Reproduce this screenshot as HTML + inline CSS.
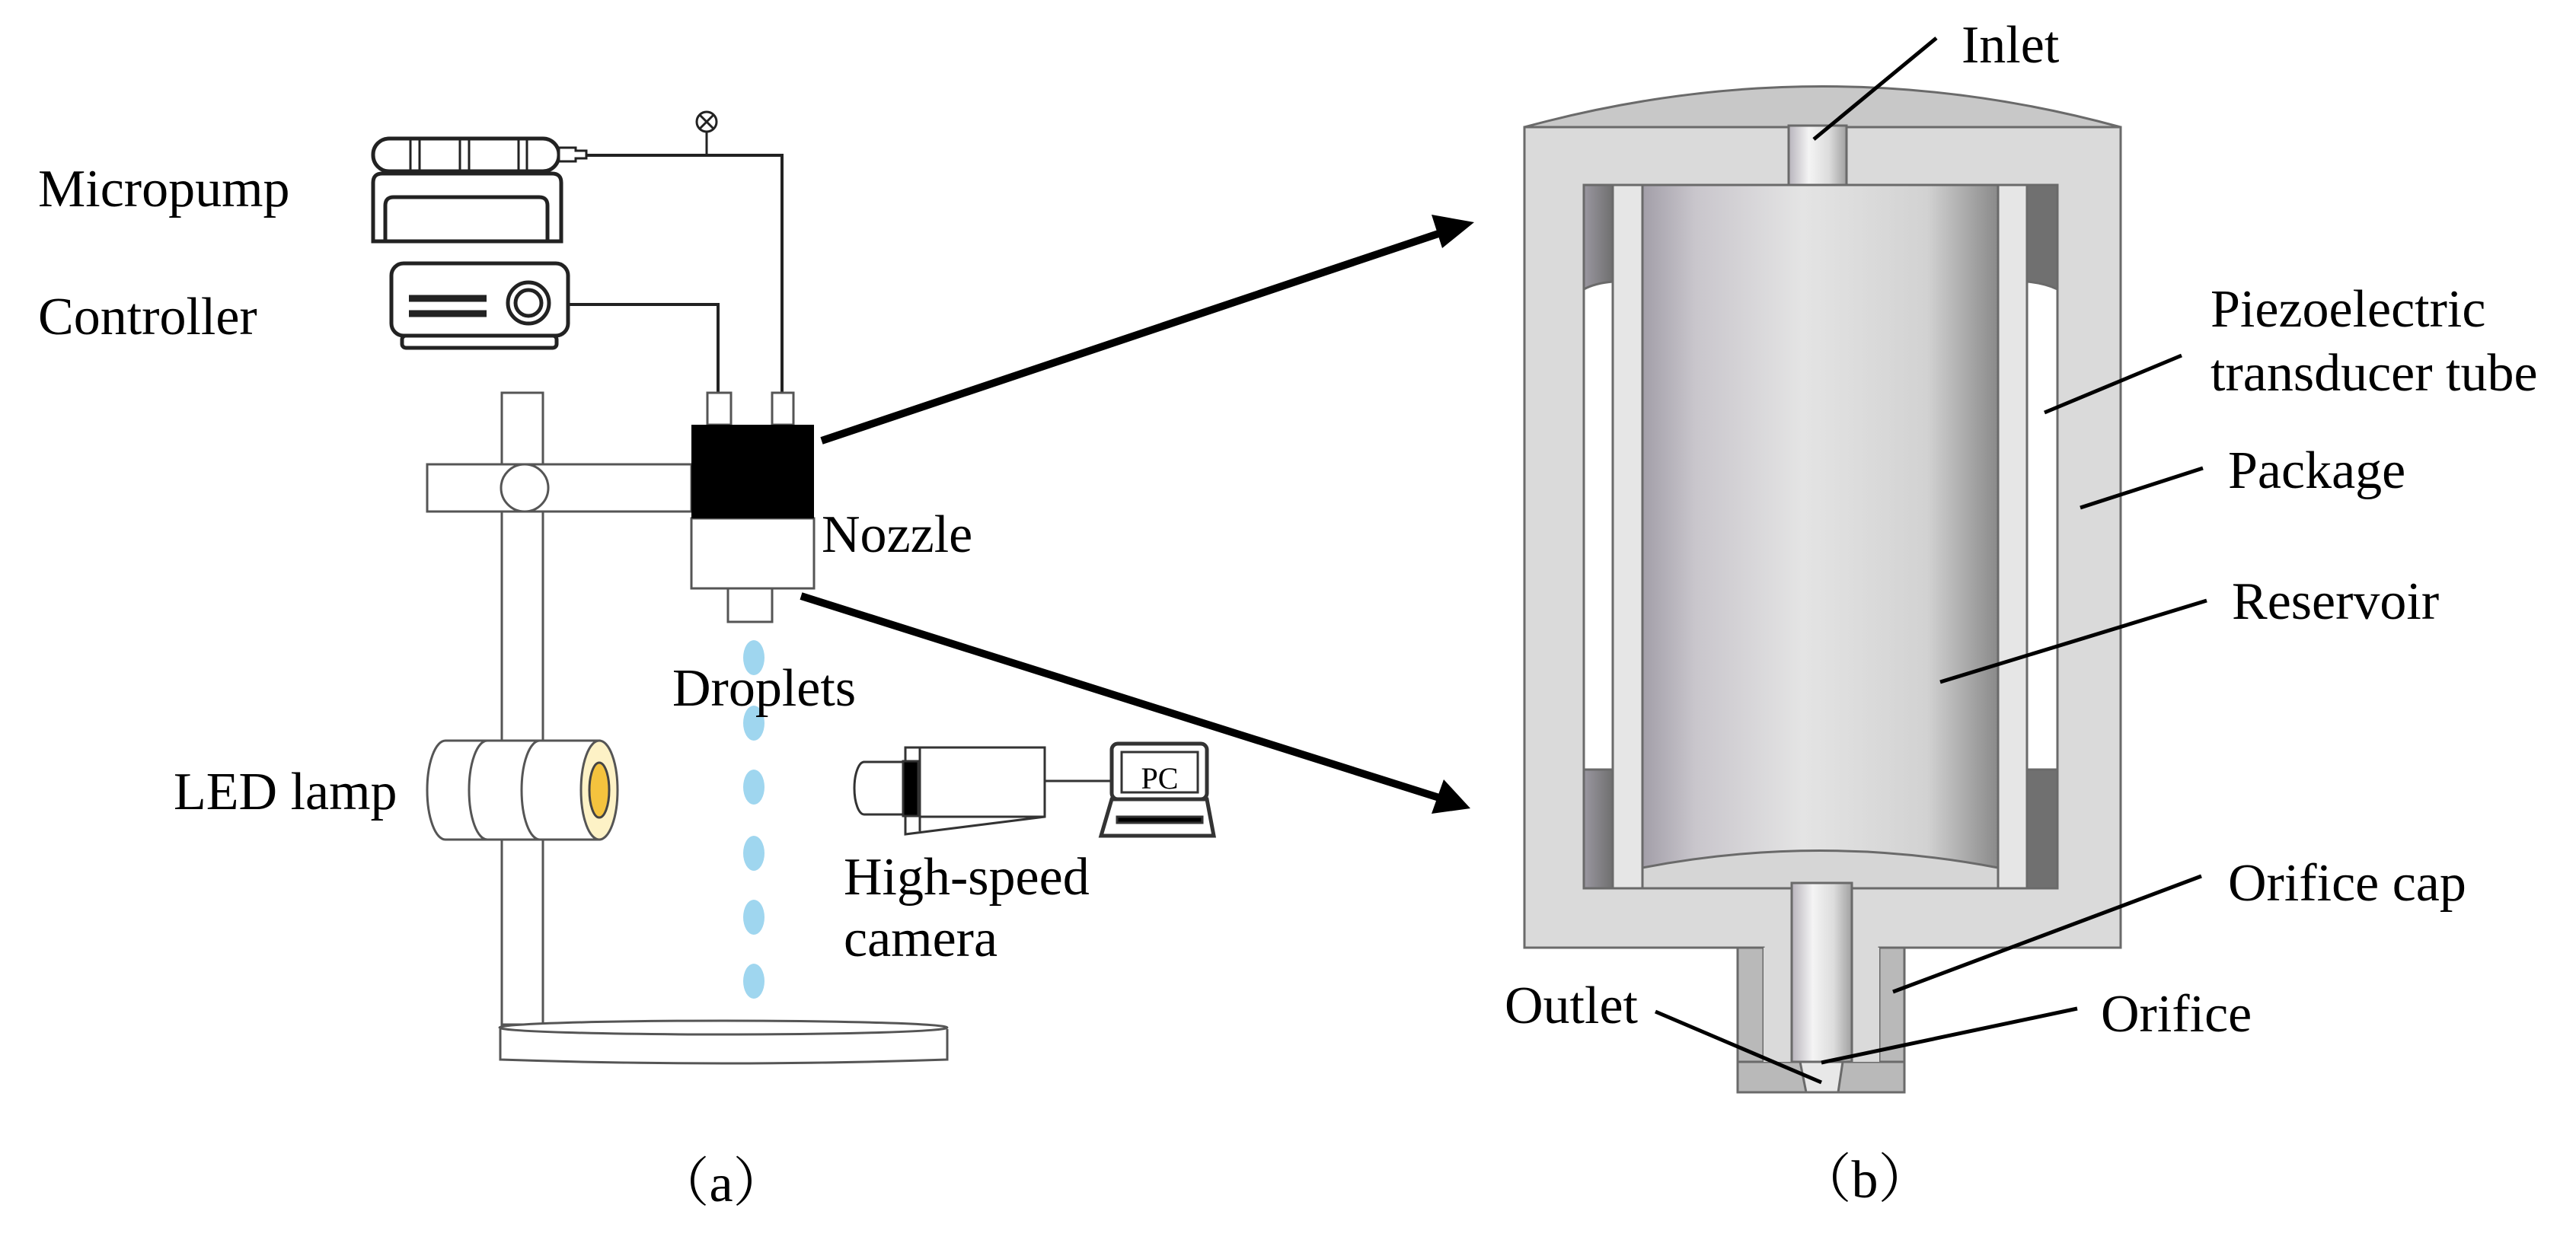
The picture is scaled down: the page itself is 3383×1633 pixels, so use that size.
<!DOCTYPE html>
<html><head><meta charset="utf-8"><style>html,body{margin:0;padding:0;background:#fff}svg{display:block}</style></head><body>
<svg width="3383" height="1633" viewBox="0 0 3383 1633" xmlns="http://www.w3.org/2000/svg" font-family="Liberation Serif, serif" font-size="70">
<defs>
<linearGradient id="res" x1="0" x2="1" y1="0" y2="0">
<stop offset="0" stop-color="#a29ea8"/><stop offset="0.15" stop-color="#c9c6cc"/><stop offset="0.45" stop-color="#e4e4e4"/><stop offset="0.8" stop-color="#d2d2d2"/><stop offset="1" stop-color="#8a8a8a"/>
</linearGradient>
<linearGradient id="tube" x1="0" x2="1" y1="0" y2="0">
<stop offset="0" stop-color="#b8b4bc"/><stop offset="0.35" stop-color="#f4f4f4"/><stop offset="0.7" stop-color="#dcdcdc"/><stop offset="1" stop-color="#a0a0a0"/>
</linearGradient>
<linearGradient id="darkL" x1="0" x2="1"><stop offset="0" stop-color="#9a97a0"/><stop offset="1" stop-color="#6f6f6f"/></linearGradient>
</defs>

<text x="50" y="271">Micropump</text>
<text x="50" y="439">Controller</text>
<text x="228" y="1063">LED lamp</text>
<text x="1079" y="725">Nozzle</text>
<text x="1108" y="1175">High-speed</text>
<text x="1108" y="1256">camera</text>
<text x="947" y="1578" text-anchor="middle" font-family="Liberation Serif, Noto Serif CJK SC, serif" font-size="70">（a）</text>

<g fill="none" stroke="#222" stroke-width="5">
<rect x="490" y="182" width="244" height="43" rx="21" fill="#fff"/>
<line x1="539" y1="182" x2="539" y2="225" stroke-width="3"/><line x1="551" y1="182" x2="551" y2="225" stroke-width="3"/>
<line x1="604" y1="182" x2="604" y2="225" stroke-width="3"/><line x1="616" y1="182" x2="616" y2="225" stroke-width="3"/>
<line x1="681" y1="182" x2="681" y2="225" stroke-width="3"/><line x1="692" y1="182" x2="692" y2="225" stroke-width="3"/>
<path d="M734 194 h22 v4 h14 v10 h-14 v4 h-22 z" fill="#fff" stroke-width="3"/>
<path d="M490 317 V240 q0 -12 12 -12 h223 q12 0 12 12 V317 Z" fill="#fff"/>
<path d="M506 317 V270 q0 -11 11 -11 h191 q11 0 11 11 V317" />
<rect x="514" y="346" width="232" height="95" rx="16" fill="#fff"/>
<rect x="528" y="441" width="203" height="16" rx="5" fill="#fff"/>
<line x1="537" y1="392" x2="639" y2="392" stroke-width="9"/>
<line x1="537" y1="412" x2="639" y2="412" stroke-width="9"/>
<circle cx="694" cy="398" r="27" fill="#fff"/><circle cx="694" cy="398" r="17"/>
<polyline points="770,204 1027,204 1027,516" stroke-width="4"/>
<line x1="928" y1="173" x2="928" y2="204" stroke-width="3"/>
<circle cx="928" cy="160" r="13" stroke-width="3" fill="#fff"/>
<line x1="919" y1="151" x2="937" y2="169" stroke-width="3"/><line x1="937" y1="151" x2="919" y2="169" stroke-width="3"/>
<polyline points="746,400 943,400 943,516" stroke-width="4"/>
</g>

<g fill="#fff" stroke="#555" stroke-width="3">
<rect x="659" y="516" width="54" height="830"/>
<rect x="561" y="610" width="347" height="62"/>
<circle cx="689" cy="641" r="31"/>
<path d="M657 1352 V1392 Q950 1402 1244 1392 V1352"/>
<ellipse cx="950" cy="1350" rx="294" ry="9"/>
<rect x="929" y="516" width="31" height="42"/>
<rect x="1014" y="516" width="28" height="42"/>
<rect x="908" y="681" width="161" height="92"/>
<rect x="956" y="773" width="58" height="44"/>
</g>
<rect x="908" y="558" width="161" height="123" fill="#000"/>

<g fill="#9fd6ef">
<ellipse cx="990" cy="864" rx="14" ry="23"/><ellipse cx="990" cy="950" rx="14" ry="23"/>
<ellipse cx="990" cy="1034" rx="14" ry="23"/><ellipse cx="990" cy="1121" rx="14" ry="23"/>
<ellipse cx="990" cy="1205" rx="14" ry="23"/><ellipse cx="990" cy="1289" rx="14" ry="23"/>
</g>
<text x="883" y="927">Droplets</text>

<g stroke="#555" stroke-width="3">
<path d="M585 973 H787 V1103 H585 A24 65 0 0 1 585 973 Z" fill="#fff"/>
<path d="M640 973 A24 65 0 0 0 640 1103" fill="none"/>
<path d="M709 973 A24 65 0 0 0 709 1103" fill="none"/>
<ellipse cx="787" cy="1038" rx="24" ry="65" fill="#fdf2c6"/>
<ellipse cx="787" cy="1038" rx="13" ry="36" fill="#f4c33e" stroke="#444"/>
</g>

<g stroke="#333" stroke-width="3" fill="#fff">
<path d="M1135 1001 H1189 V1070 H1135 A13 34.5 0 0 1 1135 1001 Z"/>
<path d="M1189 982 H1372 V1073 L1189 1096 Z"/>
<line x1="1208" y1="1073" x2="1372" y2="1073"/>
<line x1="1208" y1="982" x2="1208" y2="1092"/>
<rect x="1186" y="1000" width="20" height="72" fill="#000"/>
<line x1="1372" y1="1026" x2="1460" y2="1026"/>
<rect x="1460" y="977" width="125" height="73" rx="8" stroke-width="5"/>
<rect x="1473" y="988" width="100" height="53" stroke-width="3"/>
<path d="M1460 1050 H1585 L1594 1098 H1446 Z" stroke-width="5"/>
<rect x="1467" y="1073" width="112" height="8" fill="#000"/>
</g>
<text x="1523" y="1036" text-anchor="middle" font-size="40">PC</text>

<g stroke="#000" stroke-width="10" fill="#000">
<line x1="1079" y1="579" x2="1895" y2="305"/>
<line x1="1052" y1="783" x2="1890" y2="1048"/>
</g>
<polygon points="1936,292 1880,282 1894,326" fill="#000"/>
<polygon points="1931,1062 1896,1024 1880,1069" fill="#000"/>

<g stroke="#6a6a6a" stroke-width="3">
<path d="M2002 167 Q2394 60 2785 167 Z" fill="#c8c8c8"/>
<path d="M2002 167 H2785 V1245 H2501 V1435 H2282 V1245 H2002 Z" fill="#dadada"/>
<rect x="2080" y="243" width="622" height="924" fill="#fff"/>
<path d="M2080 243 H2118 V370 Q2095 372 2080 380 Z" fill="url(#darkL)"/>
<path d="M2702 243 H2662 V370 Q2685 372 2702 380 Z" fill="#707070"/>
<path d="M2080 1011 H2118 V1167 H2080 Z" fill="url(#darkL)"/>
<path d="M2702 1011 H2662 V1167 H2702 Z" fill="#707070"/>
<rect x="2118" y="243" width="39" height="924" fill="#e6e6e6"/>
<rect x="2624" y="243" width="38" height="924" fill="#e6e6e6"/>
<rect x="2157" y="243" width="467" height="924" fill="url(#res)"/>
<path d="M2157 1167 V1140 Q2390 1095 2624 1140 V1167 Z" fill="#d6d6d6"/>
<rect x="2349" y="165" width="76" height="78" fill="url(#tube)"/>
<rect x="2282" y="1245" width="34" height="190" fill="#b9b9b9"/>
<rect x="2468" y="1245" width="33" height="190" fill="#b9b9b9"/>
<rect x="2282" y="1395" width="219" height="40" fill="#b9b9b9"/>
<rect x="2316" y="1245" width="152" height="150" fill="#dadada" stroke="none"/>
<rect x="2353" y="1160" width="79" height="235" fill="url(#tube)"/>
<path d="M2364 1395 L2372 1435 H2414 L2420 1395 Z" fill="#e8e8e8"/>
</g>

<g stroke="#000" stroke-width="5">
<line x1="2543" y1="50" x2="2382" y2="183"/>
<line x1="2865" y1="467" x2="2685" y2="542"/>
<line x1="2893" y1="615" x2="2732" y2="667"/>
<line x1="2898" y1="789" x2="2548" y2="896"/>
<line x1="2891" y1="1151" x2="2486" y2="1303"/>
<line x1="2728" y1="1325" x2="2392" y2="1396"/>
<line x1="2174" y1="1329" x2="2392" y2="1422"/>
</g>

<text x="2576" y="82">Inlet</text>
<text x="2903" y="429">Piezoelectric</text>
<text x="2903" y="513">transducer tube</text>
<text x="2926" y="641">Package</text>
<text x="2931" y="813">Reservoir</text>
<text x="2926" y="1183">Orifice cap</text>
<text x="2759" y="1355">Orifice</text>
<text x="1976" y="1344">Outlet</text>
<text x="2449" y="1573" text-anchor="middle" font-family="Liberation Serif, Noto Serif CJK SC, serif" font-size="70">（b）</text>
</svg>
</body></html>
